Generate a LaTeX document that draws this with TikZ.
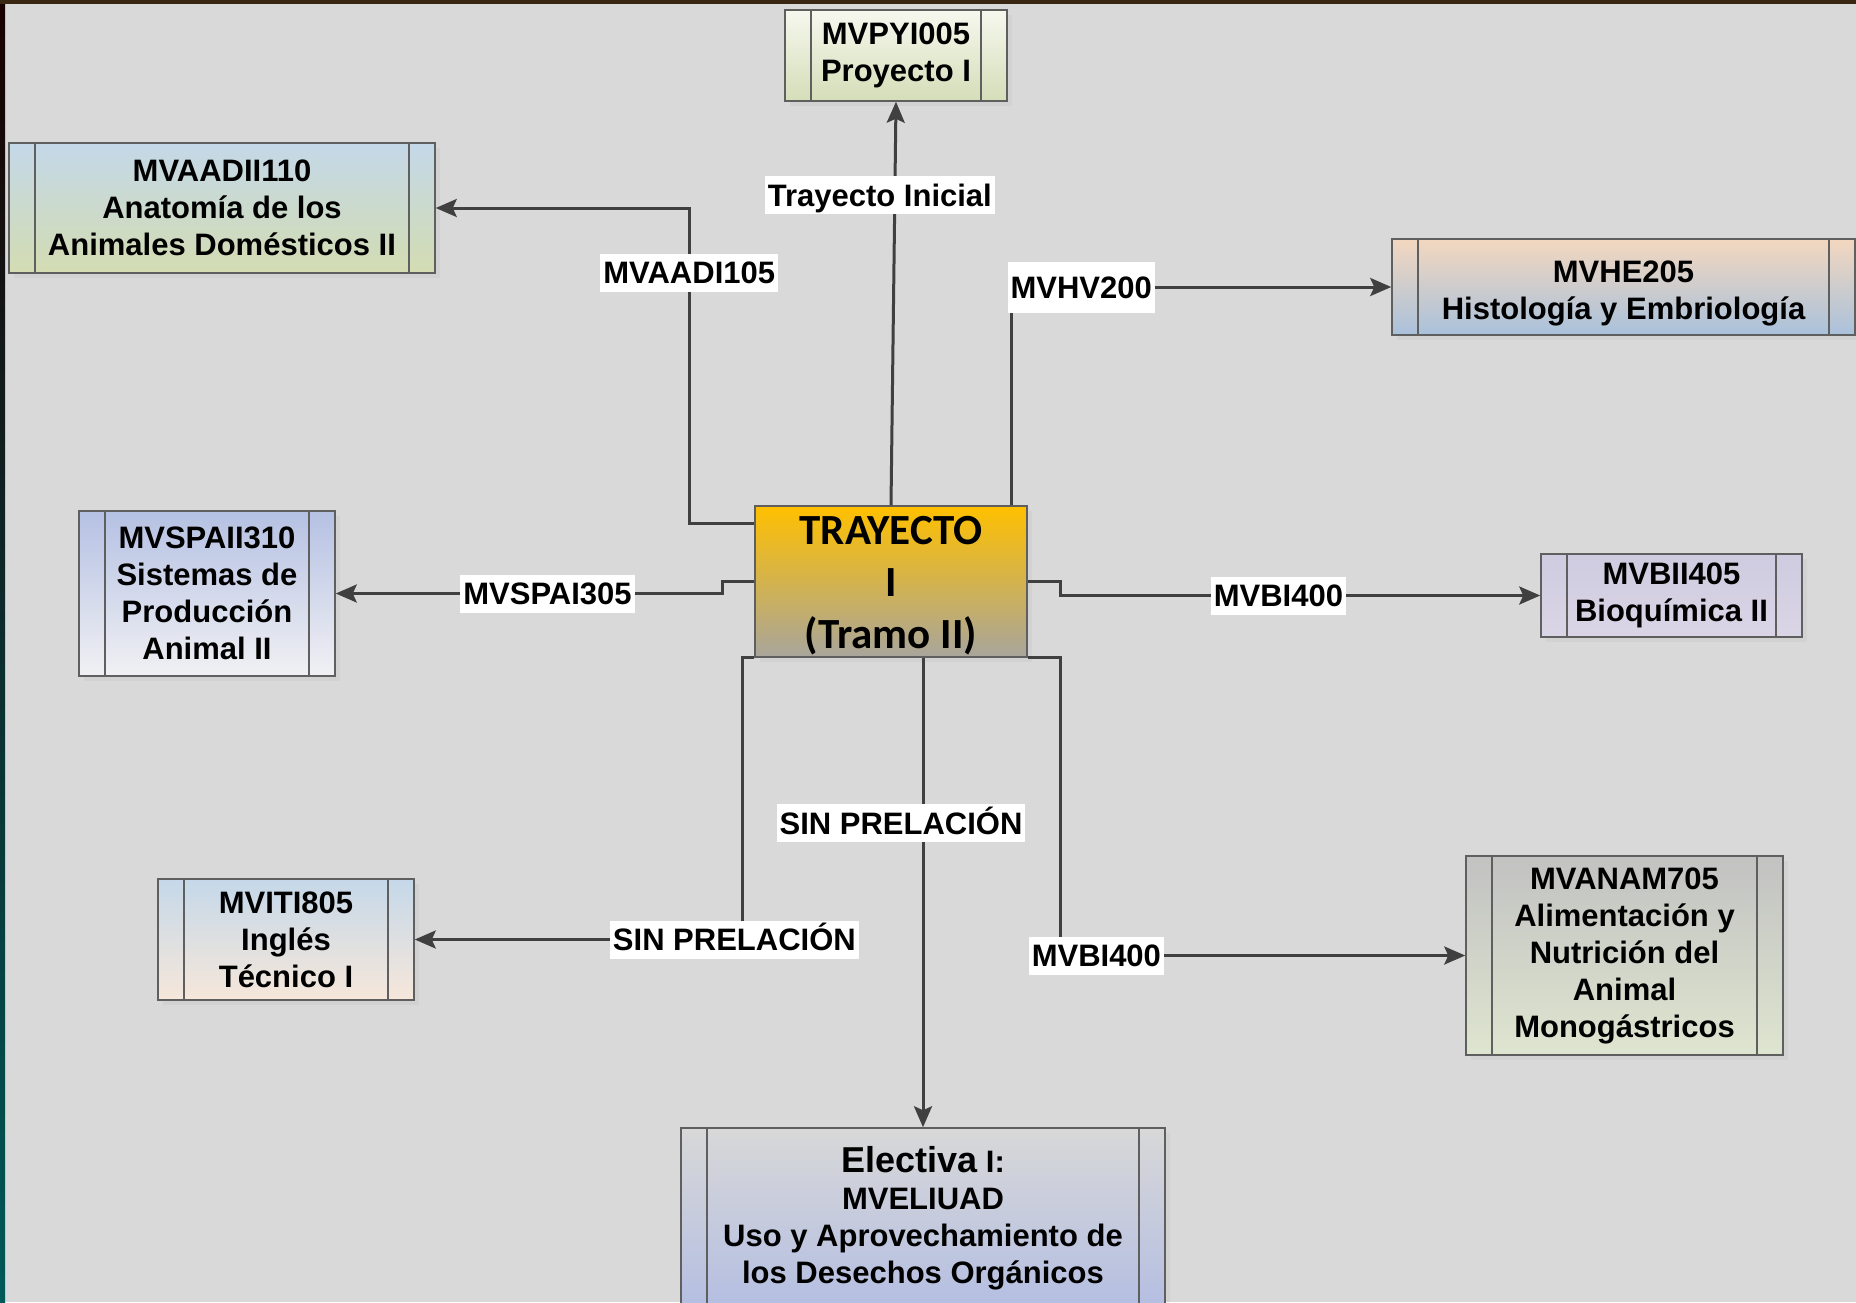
\documentclass[tikz,border=0pt]{standalone}
\usepackage{fontspec}
\setmainfont{Liberation Sans}
\newfontfamily\calibrifont{Carlito}
\usetikzlibrary{arrows.meta,shadows}

\definecolor{bggray}{HTML}{D9D9D9}
\definecolor{linegray}{HTML}{404040}
\definecolor{boxgray}{HTML}{5F5F5F}

\tikzset{
  course/.style={draw=boxgray, line width=1.5pt, align=center, inner sep=0pt,
    font=\bfseries\fontsize{31}{37}\selectfont,
    drop shadow={shadow xshift=5pt, shadow yshift=-5pt, opacity=0.08},
    path picture={
      \draw[boxgray, line width=1.5pt]
        ([xshift=26pt]path picture bounding box.north west) -- ([xshift=26pt]path picture bounding box.south west)
        ([xshift=-26pt]path picture bounding box.north east) -- ([xshift=-26pt]path picture bounding box.south east);
    }},
  tramo/.style={draw=boxgray, line width=1.5pt, align=center, inner sep=0pt,
    font=\calibrifont\bfseries\fontsize{43}{52}\selectfont,
    drop shadow={shadow xshift=5pt, shadow yshift=-5pt, opacity=0.08}},
  link/.style={draw=linegray, line width=3pt, -{Stealth[length=21pt,width=18pt,inset=4pt]}},
  lbl/.style={fill=white, inner xsep=3pt, inner ysep=3pt, text height=27pt, text depth=5pt,
    font=\bfseries\fontsize{31}{34}\selectfont}
}

\begin{document}
\begin{tikzpicture}[x=1pt,y=-1pt]
  \useasboundingbox (0,0) rectangle (1856,1302);
  \clip (0,0) rectangle (1856,1302);
  \fill[bggray] (0,0) rectangle (1856,1302);
  \shade[top color=black!90!red, bottom color=teal!70!black] (0,0) rectangle (5,1302);
  \fill[black!70!brown] (0,0) rectangle (1856,4);

  \node[tramo, minimum width=272pt, minimum height=151pt, top color={rgb,255:red,255;green,192;blue,0}, bottom color={rgb,255:red,168;green,165;blue,156}] (tray) at (891,581.5) {\rule{0pt}{36pt}TRAYECTO\\I\\(Tramo II)};

  \node[course, minimum width=222pt, minimum height=91pt, top color={rgb,255:red,246;green,248;blue,238}, bottom color={rgb,255:red,213;green,221;blue,184}] (pyi) at (896,55.5) {MVPYI005\\Proyecto I};
  \node[course, minimum width=426pt, minimum height=130pt, top color={rgb,255:red,196;green,216;blue,232}, bottom color={rgb,255:red,211;green,220;blue,178}] (aadii) at (222,208) {MVAADII110\\Anatomía de los\\Animales Domésticos II};
  \node[course, minimum width=463pt, minimum height=96pt, top color={rgb,255:red,243;green,215;blue,191}, bottom color={rgb,255:red,169;green,193;blue,219}] (he) at (1623.5,287) {\rule{0pt}{35pt}MVHE205\\Histología y Embriología};
  \node[course, minimum width=256pt, minimum height=165pt, top color={rgb,255:red,181;green,193;blue,227}, bottom color={rgb,255:red,241;green,241;blue,244}] (spaii) at (207,593.5) {MVSPAII310\\Sistemas de\\Producción\\Animal II};
  \node[course, minimum width=261pt, minimum height=83pt, top color={rgb,255:red,207;green,203;blue,224}, bottom color={rgb,255:red,218;green,214;blue,230}] (bii) at (1671.5,595.5) {MVBII405\\Bioquímica II};
  \node[course, minimum width=256pt, minimum height=121pt, top color={rgb,255:red,197;green,216;blue,233}, bottom color={rgb,255:red,246;green,231;blue,218}] (iti) at (286,939.5) {MVITI805\\Inglés\\Técnico I};
  \node[course, minimum width=317pt, minimum height=199pt, top color={rgb,255:red,194;green,194;blue,194}, bottom color={rgb,255:red,222;green,229;blue,207}] (anam) at (1624.5,955.5) {MVANAM705\\Alimentación y\\Nutrición del\\Animal\\Monogástricos};
  \node[course, minimum width=484pt, minimum height=180pt, top color={rgb,255:red,216;green,216;blue,216}, bottom color={rgb,255:red,180;green,190;blue,226}] (elec) at (923,1218) {{\fontsize{36}{40}\selectfont Electiva} I:\\MVELIUAD\\Uso y Aprovechamiento de\\los Desechos Orgánicos};

  \draw[link] (tray.north) -- node[lbl, pos=0.768, xshift=-15pt] {Trayecto Inicial} (pyi.south);
  \draw[link] ([yshift=58.5pt]tray.west) -- ++(-65,0) |- node[lbl, pos=0.397] {MVAADI105} (aadii.east);
  \draw[link] ([xshift=120pt]tray.north) |- node[lbl, pos=0.5, anchor=west, xshift=-5pt, minimum height=51pt] {MVHV200} (he.west);
  \draw[link] (tray.west) -- ++(-32,0) |- node[lbl, pos=0.726] {MVSPAI305} (spaii.east);
  \draw[link] (tray.east) -- ++(33,0) |- node[lbl, pos=0.727] {MVBI400} (bii.west);
  \draw[link] (tray.south -| elec.north) -- node[lbl, pos=0.352, xshift=-22pt] {SIN PRELACIÓN} (elec.north);
  \draw[link] (tray.south west) -- ++(-12,0) |- node[lbl, pos=0.512] {SIN PRELACIÓN} (iti.east);
  \draw[link] (tray.south east) -- ++(33,0) |- node[lbl, pos=0.544] {MVBI400} (anam.west);
\end{tikzpicture}
\end{document}
